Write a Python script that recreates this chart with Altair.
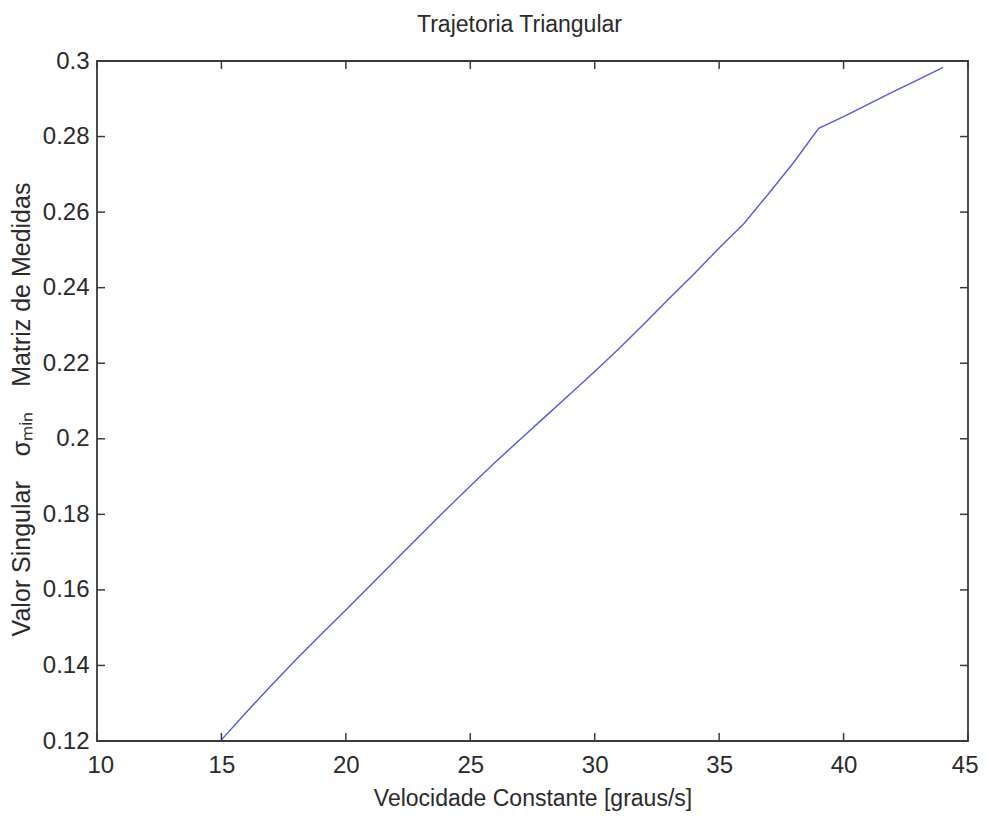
import altair as alt
import pandas as pd

# data
velocidade = [15, 16, 17, 18, 19, 20, 21, 22, 23, 24, 25, 26, 27, 28, 29,
              30, 31, 32, 33, 34, 35, 36, 37, 38, 39, 40, 41, 42, 43, 44]
sigma_min = [0.1203, 0.1276, 0.1347, 0.1416, 0.1482, 0.1547, 0.1613, 0.1679,
             0.1745, 0.1811, 0.1875, 0.1938, 0.1998, 0.2058, 0.2118, 0.2178,
             0.2240, 0.2305, 0.2372, 0.2437, 0.2505, 0.2570, 0.2650, 0.2732,
             0.2822, 0.2853, 0.2886, 0.2919, 0.2951, 0.2983]
x_ticks = [10, 15, 20, 25, 30, 35, 40, 45]
y_ticks = [0.12, 0.14, 0.16, 0.18, 0.2, 0.22, 0.24, 0.26, 0.28, 0.3]

X_DOM = [10, 45]
Y_DOM = [0.12, 0.3]
W, H = 871, 680
TICK_PX = 8
tick_dx = TICK_PX * (X_DOM[1] - X_DOM[0]) / W
tick_dy = TICK_PX * (Y_DOM[1] - Y_DOM[0]) / H

FONT = "Liberation Sans"
AXIS_COLOR = "#3a3a3a"
TEXT_COLOR = "#2a2a2a"
EM = "\u2003"

df = pd.DataFrame({"v": velocidade, "s": sigma_min})
xt = pd.DataFrame({"t": x_ticks})
yt = pd.DataFrame({"t": y_ticks})

xs = alt.Scale(domain=X_DOM, nice=False, zero=False)
ys = alt.Scale(domain=Y_DOM, nice=False, zero=False)

line = alt.Chart(df).mark_line(color="#5858dc", strokeWidth=1.4).encode(
    x=alt.X("v:Q", scale=xs,
            axis=alt.Axis(values=x_ticks, title="Velocidade Constante [graus/s]",
                          ticks=False, domain=False, grid=False,
                          labelFont=FONT, labelFontSize=24, labelColor=TEXT_COLOR,
                          labelPadding=12, labelFlush=True, labelFlushOffset=10,
                          titleFont=FONT, titleFontSize=23,
                          titleFontWeight="normal", titleColor=TEXT_COLOR,
                          titlePadding=10)),
    y=alt.Y("s:Q", scale=ys,
            axis=alt.Axis(values=y_ticks, format=".2~f",
                          title=f"Valor Singular{EM}σₘᵢₙ{EM}Matriz de Medidas",
                          ticks=False, domain=False, grid=False,
                          labelFont=FONT, labelFontSize=24, labelColor=TEXT_COLOR,
                          labelPadding=8, labelFlush=False,
                          titleFont=FONT, titleFontSize=25,
                          titleFontWeight="normal", titleColor=TEXT_COLOR,
                          titlePadding=8, titleY=H / 2 + 8)),
)

tick_style = dict(color=AXIS_COLOR, strokeWidth=1.5)

bottom = alt.Chart(xt).mark_rule(**tick_style).encode(
    x=alt.X("t:Q", scale=xs), y=alt.datum(Y_DOM[0]), y2=alt.datum(Y_DOM[0] + tick_dy))
top = alt.Chart(xt).mark_rule(**tick_style).encode(
    x=alt.X("t:Q", scale=xs), y=alt.datum(Y_DOM[1]), y2=alt.datum(Y_DOM[1] - tick_dy))
left = alt.Chart(yt).mark_rule(**tick_style).encode(
    y=alt.Y("t:Q", scale=ys), x=alt.datum(X_DOM[0]), x2=alt.datum(X_DOM[0] + tick_dx))
right = alt.Chart(yt).mark_rule(**tick_style).encode(
    y=alt.Y("t:Q", scale=ys), x=alt.datum(X_DOM[1]), x2=alt.datum(X_DOM[1] - tick_dx))

chart = alt.layer(line, bottom, top, left, right).properties(
    width=W, height=H,
    title=alt.TitleParams("Trajetoria Triangular", font=FONT, fontSize=23,
                          fontWeight="normal", color=TEXT_COLOR, anchor="middle",
                          offset=12, dx=-13),
    autosize=alt.AutoSizeParams(type="none"),
    padding={"left": 89, "top": 53, "right": 10, "bottom": 72},
).configure_view(stroke=AXIS_COLOR, strokeWidth=1.8)

chart.save("out.html", embed_options={"renderer": "svg", "actions": False})
